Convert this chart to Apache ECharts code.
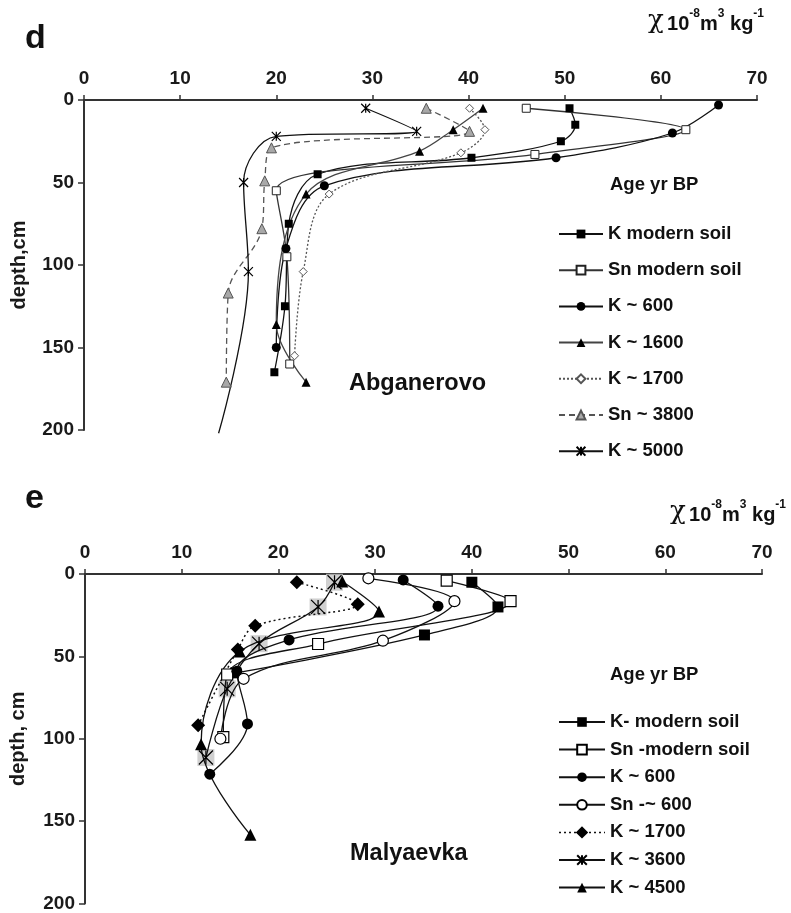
<!DOCTYPE html>
<html>
<head>
<meta charset="utf-8">
<script src="https://cdn.jsdelivr.net/npm/echarts@6/dist/echarts.min.js"></script>
<style>
  html, body { margin: 0; padding: 0; background: #fff; }
  #chart { width: 791px; height: 913px; }
</style>
</head>
<body>
<div id="chart"></div>
<script>
// Magnetic susceptibility profiles (chi, 10^-8 m3/kg) versus depth (cm)

// ---- Panel d: Abganerovo ----
const kModernD_depth = [5, 15, 25, 35, 45, 75, 125, 165];
const kModernD_chi   = [50.5, 51.1, 49.6, 40.3, 24.3, 21.3, 20.9, 19.8];

const snModernD_depth = [5, 18, 33, 55, 95, 160];
const snModernD_chi   = [46.0, 62.6, 46.9, 20.0, 21.1, 21.4];

const k600D_depth = [3, 20, 35, 52, 90, 150];
const k600D_chi   = [66.0, 61.2, 49.1, 25.0, 21.0, 20.0];

const k1600D_depth = [5, 18, 31, 57, 136, 171];
const k1600D_chi   = [41.5, 38.4, 34.9, 23.1, 20.0, 23.1];

const k1700D_depth = [5, 18, 32, 57, 104, 155];
const k1700D_chi   = [40.1, 41.7, 39.2, 25.5, 22.8, 21.9];

const sn3800D_depth = [5, 19, 29, 49, 78, 117, 171];
const sn3800D_chi   = [35.6, 40.1, 19.5, 18.8, 18.5, 15.0, 14.8];

// last point is the end of the trend line (no marker)
const k5000D_depth = [5, 19, 22, 50, 104, 202];
const k5000D_chi   = [29.3, 34.6, 20.0, 16.6, 17.1, 14.0];

// ---- Panel e: Malyaevka ----
const kModernE_depth = [5, 20, 37, 60];
const kModernE_chi   = [40.0, 42.7, 35.1, 15.6];

const snModernE_depth = [4, 16.5, 42.5, 61, 99];
const snModernE_chi   = [37.4, 44.0, 24.1, 14.7, 14.3];

const k600E_depth = [3.6, 19.5, 40, 59, 91, 121.5];
const k600E_chi   = [32.9, 36.5, 21.1, 15.7, 16.8, 12.9];

const sn600E_depth = [2.6, 16.5, 40.5, 63.6, 100];
const sn600E_chi   = [29.3, 38.2, 30.8, 16.4, 14.0];

const k1700E_depth = [5, 18.3, 31.4, 45.9, 91.8];
const k1700E_chi   = [21.9, 28.2, 17.6, 15.8, 11.7];

const k3600E_depth = [5, 20, 42.3, 69.7, 111.4];
const k3600E_chi   = [25.8, 24.1, 18.0, 14.7, 12.5];

const k4500E_depth = [4.6, 22.8, 47, 103.3, 158.3];
const k4500E_chi   = [26.6, 30.4, 16.0, 12.0, 17.1];

// Axis ticks
const chiTicks = [0, 10, 20, 30, 40, 50, 60, 70];
const depthTicks = [0, 50, 100, 150, 200];

const legendD = ['K modern soil', 'Sn modern soil', 'K ~ 600', 'K ~ 1600', 'K ~ 1700', 'Sn ~ 3800', 'K ~ 5000'];
const legendE = ['K- modern soil', 'Sn -modern soil', 'K ~ 600', 'Sn -~ 600', 'K ~ 1700', 'K ~ 3600', 'K ~ 4500'];

const FONT = "'Liberation Sans', Arial, Helvetica, sans-serif";
const AXIS_COLOR = '#333';
const STAR = 'path://M0,0L10,10M10,0L0,10M5,0L5,10';

function pairs(chi, depth) {
  return chi.map((c, i) => [c, depth[i]]);
}

function axesFor(grid) {
  const x = {
    type: 'value', gridIndex: grid, position: 'top',
    min: chiTicks[0], max: chiTicks[chiTicks.length - 1], interval: 10,
    axisLine: { show: true, onZero: false, lineStyle: { color: AXIS_COLOR, width: 2 } },
    axisTick: { show: true, length: 5, lineStyle: { color: AXIS_COLOR, width: 1.5 } },
    axisLabel: { fontFamily: FONT, fontWeight: 'bold', fontSize: 19, color: '#1a1a1a', margin: 12 },
    splitLine: { show: false }
  };
  const y = {
    type: 'value', gridIndex: grid, inverse: true,
    min: depthTicks[0], max: depthTicks[depthTicks.length - 1], interval: 50,
    axisLine: { show: true, onZero: false, lineStyle: { color: AXIS_COLOR, width: 2 } },
    axisTick: { show: true, length: 6, lineStyle: { color: AXIS_COLOR, width: 1.5 } },
    axisLabel: { fontFamily: FONT, fontWeight: 'bold', fontSize: 19, color: '#1a1a1a', margin: 10 },
    splitLine: { show: false },
    nameLocation: 'middle', nameRotate: 90, nameGap: 55,
    nameTextStyle: { fontFamily: FONT, fontWeight: 'bold', fontSize: 20, color: '#1a1a1a' }
  };
  return { x, y };
}

const aD = axesFor(0), aE = axesFor(1);
aD.y.name = 'depth,cm';
aE.y.name = 'depth, cm';
aE.y.nameGap = 57;

function lineSeries(name, idx, chi, depth, o) {
  return Object.assign({
    name, type: 'line', xAxisIndex: idx, yAxisIndex: idx,
    data: pairs(chi, depth), smooth: 0.35, clip: false,
    lineStyle: { color: '#111', width: 1.3 },
    z: 3
  }, o);
}

const k5000Data = pairs(k5000D_chi, k5000D_depth);
k5000Data[k5000Data.length - 1] = { value: k5000Data[k5000Data.length - 1], symbol: 'none' };

const series = [
  // panel d
  lineSeries('K modern soil', 0, kModernD_chi, kModernD_depth, {
    symbol: 'rect', symbolSize: 8, itemStyle: { color: '#000' } }),
  lineSeries('Sn modern soil', 0, snModernD_chi, snModernD_depth, {
    symbol: 'rect', symbolSize: 8, itemStyle: { color: '#fff', borderColor: '#222', borderWidth: 1 },
    lineStyle: { color: '#333', width: 1.3 } }),
  lineSeries('K ~ 600', 0, k600D_chi, k600D_depth, {
    symbol: 'circle', symbolSize: 9, itemStyle: { color: '#000' } }),
  lineSeries('K ~ 1600', 0, k1600D_chi, k1600D_depth, {
    symbol: 'triangle', symbolSize: 9, itemStyle: { color: '#000' },
    lineStyle: { color: '#444', width: 1.3 } }),
  lineSeries('K ~ 1700', 0, k1700D_chi, k1700D_depth, {
    symbol: 'diamond', symbolSize: 8, itemStyle: { color: '#fff', borderColor: '#555', borderWidth: 1 },
    lineStyle: { color: '#555', width: 1.3, type: [2, 2] } }),
  lineSeries('Sn ~ 3800', 0, sn3800D_chi, sn3800D_depth, {
    symbol: 'triangle', symbolSize: 10, itemStyle: { color: '#a8a8a8', borderColor: '#555', borderWidth: 1 },
    lineStyle: { color: '#555', width: 1.3, type: [6, 4] } }),
  Object.assign(lineSeries('K ~ 5000', 0, k5000D_chi, k5000D_depth, {
    symbol: STAR, symbolSize: 9, itemStyle: { color: 'none', borderColor: '#000', borderWidth: 1.2 } }),
    { data: k5000Data }),

  // panel e
  lineSeries('K- modern soil', 1, kModernE_chi, kModernE_depth, {
    symbol: 'rect', symbolSize: 11, itemStyle: { color: '#000' } }),
  lineSeries('Sn -modern soil', 1, snModernE_chi, snModernE_depth, {
    symbol: 'rect', symbolSize: 11, itemStyle: { color: '#fff', borderColor: '#000', borderWidth: 1.2 } }),
  lineSeries('K ~ 600', 1, k600E_chi, k600E_depth, {
    symbol: 'circle', symbolSize: 11, itemStyle: { color: '#000' } }),
  lineSeries('Sn -~ 600', 1, sn600E_chi, sn600E_depth, {
    symbol: 'circle', symbolSize: 11, itemStyle: { color: '#fff', borderColor: '#000', borderWidth: 1.2 } }),
  lineSeries('K ~ 1700', 1, k1700E_chi, k1700E_depth, {
    symbol: 'diamond', symbolSize: 14, itemStyle: { color: '#000' },
    lineStyle: { color: '#111', width: 1.5, type: [2, 3] } }),
  {
    // grey boxes behind the K ~ 3600 asterisks
    type: 'scatter', xAxisIndex: 1, yAxisIndex: 1, silent: true,
    data: pairs(k3600E_chi, k3600E_depth),
    symbol: 'rect', symbolSize: 17, itemStyle: { color: '#c4c4c4' }, z: 2
  },
  lineSeries('K ~ 3600', 1, k3600E_chi, k3600E_depth, {
    symbol: STAR, symbolSize: 14, itemStyle: { color: 'none', borderColor: '#000', borderWidth: 1.2 } }),
  lineSeries('K ~ 4500', 1, k4500E_chi, k4500E_depth, {
    symbol: 'triangle', symbolSize: 12, itemStyle: { color: '#000' } })
];

const legendText = { fontFamily: FONT, fontWeight: 'bold', fontSize: 18.5, color: '#111', lineHeight: 20 };

const unitRich = {
  c: { font: '26px DejaVu Serif', fill: '#111', verticalAlign: 'bottom' },
  a: { font: 'bold 20px ' + FONT, fill: '#111', verticalAlign: 'bottom' },
  s: { font: 'bold 12px ' + FONT, fill: '#111', verticalAlign: 'top', padding: [0, 0, 12, 0] }
};
const unitText = '{c|χ} {a|10}{s|-8}{a|m}{s|3}{a| kg}{s|-1}';

const chart = echarts.init(document.getElementById('chart'), null, { renderer: 'canvas' });
chart.setOption({
  backgroundColor: '#fff',
  animation: false,
  grid: [
    { left: 84, top: 100, width: 673, height: 330 },
    { left: 81, top: 574, width: 681, height: 331 }
  ],
  xAxis: [aD.x, aE.x],
  yAxis: [aD.y, aE.y],
  legend: [
    {
      orient: 'vertical', left: 553, top: 219, itemWidth: 44, itemHeight: 11, itemGap: 16.2,
      selectedMode: false, textStyle: legendText, data: legendD
    },
    {
      orient: 'vertical', left: 553, top: 707, itemWidth: 46, itemHeight: 12, itemGap: 7.6,
      selectedMode: false, textStyle: legendText,
      data: legendE.map(n => n === 'K ~ 1700'
        ? { name: n, itemStyle: { color: '#000', borderColor: '#000' },
            lineStyle: { color: '#111', type: [2, 3], width: 1.5 } }
        : n)
    }
  ],
  graphic: [
    { type: 'text', left: 25, top: 22, style: { text: 'd', font: 'bold 34px ' + FONT, fill: '#111' } },
    { type: 'text', left: 25, top: 482, style: { text: 'e', font: 'bold 34px ' + FONT, fill: '#111' } },
    { type: 'text', left: 610, top: 175, style: { text: 'Age yr BP', font: 'bold 18.5px ' + FONT, fill: '#111' } },
    { type: 'text', left: 610, top: 665, style: { text: 'Age yr BP', font: 'bold 18.5px ' + FONT, fill: '#111' } },
    { type: 'text', left: 349, top: 372, style: { text: 'Abganerovo', font: 'bold 23.5px ' + FONT, fill: '#111' } },
    { type: 'text', left: 350, top: 842, style: { text: 'Malyaevka', font: 'bold 23.5px ' + FONT, fill: '#111' } },
    { type: 'text', left: 648, top: 8, style: { text: unitText, rich: unitRich } },
    { type: 'text', left: 670, top: 499, style: { text: unitText, rich: unitRich } }
  ],
  series
});
</script>
</body>
</html>
